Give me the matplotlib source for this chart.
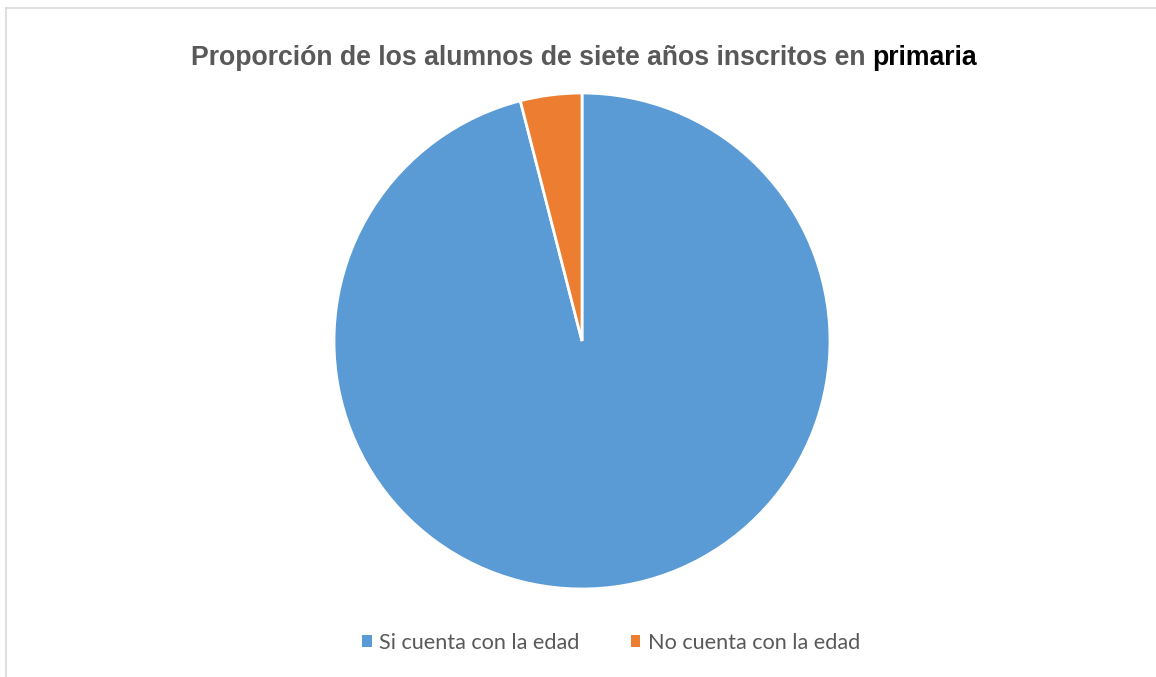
import matplotlib
matplotlib.use("Agg")
import matplotlib.pyplot as plt
from matplotlib.lines import Line2D
from matplotlib.patches import Patch

categories = ["Si cuenta con la edad", "No cuenta con la edad"]
values = [96, 4]
colors = ["#5B9BD5", "#ED7D31"]
title_main = "Proporción de los alumnos de siete años inscritos en "
title_end = "primaria"

W, H = 1156, 677
fig = plt.figure(figsize=(W / 100, H / 100), dpi=100)
fig.patch.set_facecolor("white")

# frame lines (top and left)
fig.add_artist(Line2D([6 / W, 1], [1 - 8 / H, 1 - 8 / H], color="#D9D9D9", lw=1.2))
fig.add_artist(Line2D([6 / W, 6 / W], [0, 1 - 8 / H], color="#D9D9D9", lw=1.2))

cx, cy, r = 582, 341, 248
ax = fig.add_axes([(cx - r) / W, (H - cy - r) / H, 2 * r / W, 2 * r / H])
ax.pie(values, colors=colors, startangle=90, counterclock=False,
       wedgeprops=dict(edgecolor="white", linewidth=2))
ax.set_aspect("equal")
ax.set_xlim(-1, 1)
ax.set_ylim(-1, 1)
ax.axis("off")

# title in two parts
fs = 19.2
t1 = fig.text(0, 0, title_main, fontsize=fs, fontweight="bold",
              family="Liberation Sans", color="#595959")
t2 = fig.text(0, 0, title_end, fontsize=fs, fontweight="bold",
              family="Liberation Sans", color="black")
fig.canvas.draw()
r_ = fig.canvas.get_renderer()
w1 = t1.get_window_extent(r_).width
w2 = t2.get_window_extent(r_).width
total = w1 + w2
x0 = 584 - total / 2
ybase = H - 65
t1.set_position((x0 / W, ybase / H))
t2.set_position(((x0 + w1) / W, ybase / H))
t1.set_va("baseline")
t2.set_va("baseline")

handles = [Patch(facecolor=c, edgecolor="none") for c in colors]
leg = fig.legend(handles, categories, loc="center", bbox_to_anchor=(611 / W, 1 - 643 / H),
                 ncol=2, frameon=False, prop=dict(family="Lato", size=15.6),
                 handlelength=0.45, handleheight=0.45, handletextpad=0.35, columnspacing=2.35,
                 labelcolor="#595959")

fig.savefig("out.png", dpi=100, facecolor="white")
